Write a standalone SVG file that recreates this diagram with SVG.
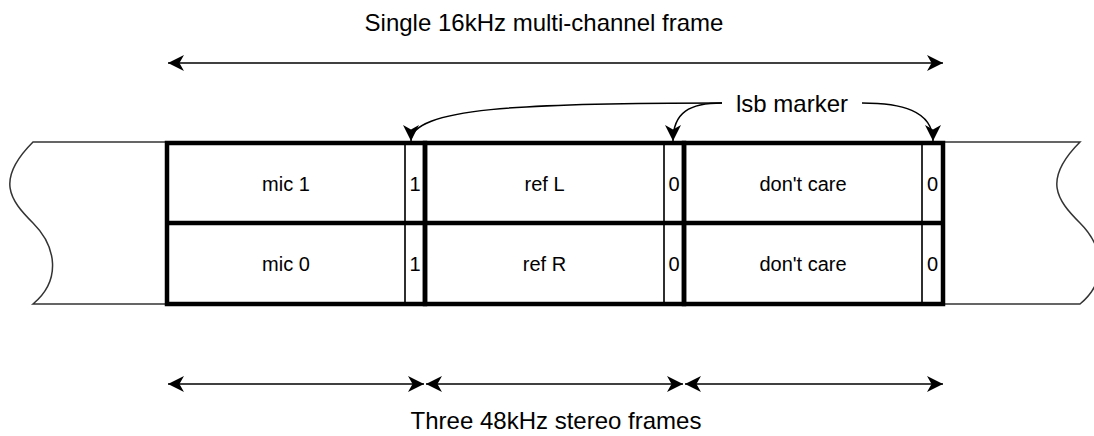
<svg xmlns="http://www.w3.org/2000/svg" width="1094" height="436" viewBox="0 0 1094 436">
<style>
text{font-family:"Liberation Sans",Arial,Helvetica,sans-serif;font-size:24px;fill:#000;text-anchor:middle}
text.c{font-size:20px}
.thin{fill:none;stroke:#222;stroke-width:1.5}
.thick{fill:none;stroke:#000;stroke-width:4.5}
.tape{fill:#fff;stroke:#333;stroke-width:1.5}
.conn{fill:none;stroke:#000;stroke-width:1.5}
</style>
<defs>
<marker id="ah" markerUnits="userSpaceOnUse" markerWidth="16" markerHeight="16" viewBox="0 0 14 14" refX="14" refY="7" orient="auto-start-reverse">
<path d="M0,0 L14,7 L0,14 L4,7 Z" fill="#000"/>
</marker>
</defs>
<rect width="1094" height="436" fill="#fff"/>
<g id="tape-left">
<path class="tape" d="M167,142 L33,142 C-5,180 10,200 33,223 C56,246 62,280 33,304 L167,304"/>
</g>
<g id="tape-right">
<path class="tape" d="M943,142 L1080,142 C1042,180 1057,200 1080,223 C1103,246 1109,280 1080,304 L943,304"/>
</g>
<g id="cell-mic1"><rect class="thin" x="167" y="143" width="238" height="80"/><text class="c" x="286" y="191">mic 1</text></g>
<g id="cell-mic1-lsb"><rect class="thin" x="405" y="143" width="20" height="80"/><text class="c" x="415" y="191">1</text></g>
<g id="cell-mic0"><rect class="thin" x="167" y="223" width="238" height="81"/><text class="c" x="286" y="271">mic 0</text></g>
<g id="cell-mic0-lsb"><rect class="thin" x="405" y="223" width="20" height="81"/><text class="c" x="415" y="271">1</text></g>
<g id="cell-refL"><rect class="thin" x="425" y="143" width="239" height="80"/><text class="c" x="544.5" y="191">ref L</text></g>
<g id="cell-refL-lsb"><rect class="thin" x="664" y="143" width="20" height="80"/><text class="c" x="674" y="191">0</text></g>
<g id="cell-refR"><rect class="thin" x="425" y="223" width="239" height="81"/><text class="c" x="544.5" y="271">ref R</text></g>
<g id="cell-refR-lsb"><rect class="thin" x="664" y="223" width="20" height="81"/><text class="c" x="674" y="271">0</text></g>
<g id="cell-dc1"><rect class="thin" x="684" y="143" width="238" height="80"/><text class="c" x="803" y="191">don't care</text></g>
<g id="cell-dc1-lsb"><rect class="thin" x="922" y="143" width="21" height="80"/><text class="c" x="932.5" y="191">0</text></g>
<g id="cell-dc0"><rect class="thin" x="684" y="223" width="238" height="81"/><text class="c" x="803" y="271">don't care</text></g>
<g id="cell-dc0-lsb"><rect class="thin" x="922" y="223" width="21" height="81"/><text class="c" x="932.5" y="271">0</text></g>
<g id="frame1"><rect class="thick" x="167" y="143" width="258" height="161"/><line class="thick" x1="167" y1="223" x2="425" y2="223"/></g>
<g id="frame2"><rect class="thick" x="425" y="143" width="259" height="161"/><line class="thick" x1="425" y1="223" x2="684" y2="223"/></g>
<g id="frame3"><rect class="thick" x="684" y="143" width="259" height="161"/><line class="thick" x1="684" y1="223" x2="943" y2="223"/></g>
<g id="label-title"><text x="544" y="31">Single 16kHz multi-channel frame</text></g>
<g id="label-bottom"><text x="556" y="429">Three 48kHz stereo frames</text></g>
<g id="label-lsb"><text x="792" y="112">lsb marker</text></g>
<g id="connectors">
<line class="conn" x1="168" y1="63" x2="943" y2="63" marker-start="url(#ah)" marker-end="url(#ah)"/>
<line class="conn" x1="168" y1="384" x2="424" y2="384" marker-start="url(#ah)" marker-end="url(#ah)"/>
<line class="conn" x1="426" y1="384" x2="683" y2="384" marker-start="url(#ah)" marker-end="url(#ah)"/>
<line class="conn" x1="685" y1="384" x2="943" y2="384" marker-start="url(#ah)" marker-end="url(#ah)"/>
<path class="conn" d="M722,103 C520,103 411,108 411,141" marker-end="url(#ah)"/>
<path class="conn" d="M722,103 C690,103 673,112 673,141" marker-end="url(#ah)"/>
<path class="conn" d="M862,103 C900,103 933,110 933,141" marker-end="url(#ah)"/>
</g>
</svg>
